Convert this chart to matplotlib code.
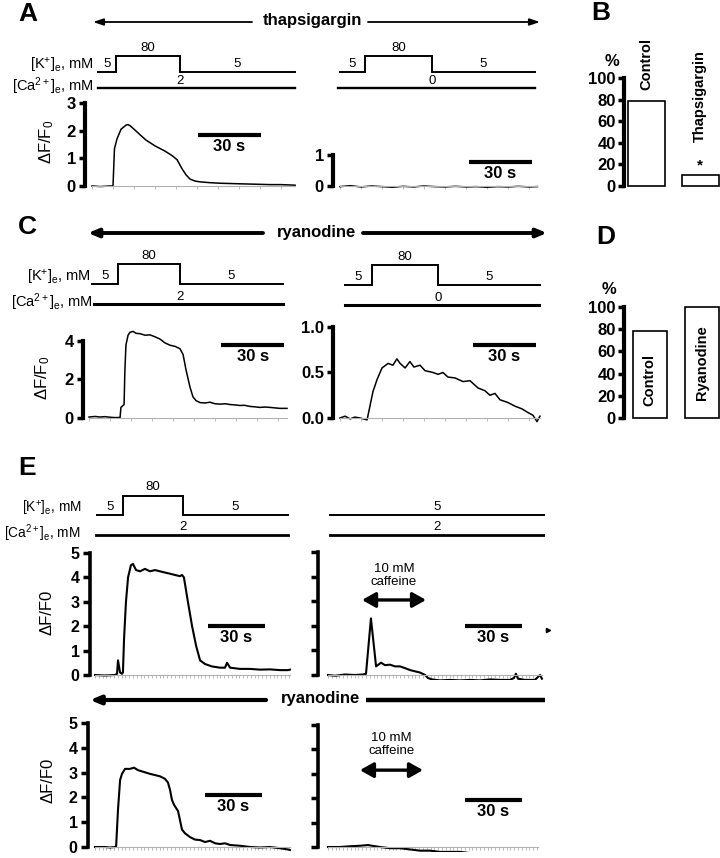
import matplotlib
matplotlib.use('Agg')
import matplotlib.pyplot as plt
import numpy as np

plt.rcParams['font.family'] = ['Liberation Sans', 'DejaVu Sans']
plt.rcParams['mathtext.fontset'] = 'custom'
plt.rcParams['mathtext.rm'] = 'Liberation Sans'
plt.rcParams['mathtext.it'] = 'Liberation Sans:italic'
plt.rcParams['mathtext.bf'] = 'Liberation Sans:bold'
plt.rcParams['mathtext.sf'] = 'Liberation Sans'

# ======================= DATA =======================
# Panel A (thapsigargin): dF/F0 traces, time in s
a_left_t = [0, 4, 8.5, 10, 10.7, 11.9, 13.8, 16.2, 17.1, 18.1, 20.5, 22.9, 25.7, 30.0, 34.8,
            38.1, 40.5, 42.9, 44.8, 46.7, 49.0, 51.4, 56.2, 61, 65.7, 70, 75.2, 80, 84.8, 90, 96.7]
a_left_y = [0.0, -0.02, 0.0, 0.0, 1.35, 1.7, 2.05, 2.2, 2.22, 2.18, 2.02, 1.85, 1.66, 1.45, 1.26,
            1.1, 0.95, 0.62, 0.4, 0.25, 0.18, 0.15, 0.12, 0.1, 0.09, 0.08, 0.07, 0.06, 0.05, 0.05, 0.03]
a_right_t = [0, 5, 10, 15, 20, 25, 30, 35, 40, 45, 50, 55, 60, 65, 70, 75, 80, 85, 90, 94]
a_right_y = [-0.02, 0.01, -0.03, 0.0, -0.02, -0.04, -0.01, -0.03, 0.0, -0.02, -0.03, -0.01,
             -0.03, -0.02, -0.04, -0.02, -0.03, -0.01, -0.03, -0.02]

# Panel C (ryanodine)
c_left_t = [0, 2.9, 5.2, 7.6, 10, 12.4, 14.8, 15.2, 15.7, 16.7, 17.1, 17.6, 18.6, 19.5, 21, 22.4,
            24.3, 26.7, 29, 31.4, 33.8, 36.2, 38.6, 41, 43.3, 44.8, 46.2, 48.1, 49.5, 51, 52.9,
            55.2, 57.6, 60, 62.4, 65, 67.1, 69.5, 71.9, 74, 76.7, 79, 81.4, 84, 86.2, 89, 91, 94.3]
c_left_y = [0.05, 0.08, 0.05, 0.07, 0.04, 0.02, 0.03, 0.55, 0.6, 0.7, 2.5, 3.8, 4.3, 4.45, 4.5, 4.4,
            4.38, 4.3, 4.32, 4.22, 4.1, 3.9, 3.78, 3.72, 3.6, 3.3, 2.5, 1.6, 1.1, 0.9, 0.8,
            0.78, 0.82, 0.74, 0.72, 0.74, 0.7, 0.68, 0.65, 0.66, 0.6, 0.58, 0.55, 0.57, 0.55, 0.52, 0.5, 0.5]
c_right_t = [0, 2.4, 4.8, 7.1, 9.5, 12.9, 15.7, 17.6, 20, 22.9, 25.2, 27.1, 28.6, 31, 33.3, 35.2,
             38.1, 40.5, 44.3, 46.7, 49, 51.4, 54.8, 58.6, 61.9, 65.7, 69, 71.4, 73.8, 76.2, 80,
             83.3, 86.7, 89.5, 91.9, 93.8, 95.2]
c_right_y = [0.0, 0.02, -0.01, 0.01, 0.0, -0.02, 0.29, 0.42, 0.55, 0.6, 0.58, 0.65, 0.6, 0.55,
             0.62, 0.56, 0.58, 0.52, 0.5, 0.48, 0.5, 0.45, 0.44, 0.4, 0.41, 0.33, 0.3, 0.25, 0.27,
             0.2, 0.17, 0.13, 0.1, 0.06, 0.03, -0.04, 0.02]

# Panel E (caffeine)
e_tl_t = [0, 5.3, 10.5, 11.6, 12.1, 13.2, 14.2, 14.7, 15.3, 16.3, 17.4, 18.9, 20, 21.6, 23.7,
          26.3, 28.9, 31.6, 34.2, 36.8, 39.5, 42.1, 44.7, 45.8, 46.8, 48.9, 51.1, 53.2, 55.3,
          57.9, 61.6, 65.8, 68.4, 69.5, 71.1, 76.3, 81.6, 86.8, 92.1, 97.4, 101.6, 102.6]
e_tl_y = [0.0, -0.02, 0.0, 0.05, 0.6, 0.1, 0.05, 0.1, 1.5, 3.0, 4.0, 4.5, 4.55, 4.3, 4.25,
          4.35, 4.25, 4.3, 4.25, 4.2, 4.15, 4.1, 4.05, 4.1, 4.0, 3.0, 2.0, 1.2, 0.6,
          0.45, 0.35, 0.3, 0.3, 0.5, 0.3, 0.25, 0.25, 0.22, 0.23, 0.2, 0.2, 0.22]
e_tr_t = [0, 3.7, 8.9, 14.2, 18.4, 20, 22.6, 25.3, 27.9, 30, 32.6, 35.3, 37.9, 40.5, 43.2, 45.8,
          48.4, 51.1, 52.6, 54.7, 58.9, 64.2, 69.5, 74.7, 80, 85.3, 90.5, 95.8, 97.9, 98.9, 100,
          103.7, 108.9, 111.6, 112.6]
e_tr_y = [0.0, -0.03, 0.02, 0.0, 0.02, 0.05, 2.3, 0.35, 0.5, 0.4, 0.42, 0.35, 0.35, 0.28, 0.2,
          0.15, 0.1, 0.0, -0.12, -0.18, -0.22, -0.2, -0.22, -0.2, -0.22, -0.18, -0.2, -0.2,
          -0.12, 0.05, -0.15, -0.2, -0.2, 0.0, -0.15]
e_bl_t = [0, 5.3, 7.9, 10.5, 11.1, 12.1, 13.2, 14.2, 15.8, 18.4, 20.5, 22.6, 24.7, 26.8, 28.9,
          31.6, 34.2, 36.8, 38.4, 39.5, 40.5, 41.6, 43.7, 45.8, 47.4, 50, 52.6, 55.3, 57.9,
          60.5, 63.2, 65.8, 68.4, 71.1, 76.3, 81.6, 86.8, 92.1, 97.4, 101.6, 102.6]
e_bl_y = [0.0, 0.0, -0.02, 0.0, 0.0, 1.5, 2.7, 2.95, 3.15, 3.15, 3.2, 3.1, 3.05, 3.0, 2.95,
          2.9, 2.85, 2.75, 2.6, 2.3, 1.9, 1.7, 1.45, 0.7, 0.55, 0.4, 0.3, 0.28, 0.2,
          0.25, 0.15, 0.12, 0.15, 0.08, 0.05, 0.0, -0.02, 0.0, -0.05, -0.1, -0.12]
e_br_t = [0, 6.3, 11.6, 16.8, 21.1, 23.2, 27.4, 32.6, 37.9, 43.2, 48.4, 53.7, 58.9, 64.2, 69.5,
          74.7, 80, 85.3, 90.5, 95.8, 101, 106.3, 110.5]
e_br_y = [0.0, 0.0, 0.03, 0.05, 0.08, 0.05, 0.0, -0.05, -0.05, -0.1, -0.15, -0.15, -0.2, -0.2,
          -0.2, -0.25, -0.28, -0.3, -0.3, -0.3, -0.32, -0.3, -0.32]

# Perfusion protocols: [line start, K on, K off, line end] (s); K+ (mM); Ca2+ (mM)
k_levels = [5, 80, 5]
a_left_k_t = [2.9, 11.4, 41.9, 96.7]
a_right_k_t = [0.0, 11.9, 43.8, 92.9]
c_left_k_t = [1.4, 13.8, 43.3, 92.4]
c_right_k_t = [2.4, 15.2, 46.7, 95.7]
e_left_k_t = [1.05, 14.7, 46.3, 101.6]
e_right_k_t = [1.05, 114.2]
e_right_k = 5
a_left_ca, a_right_ca = 2, 0
c_left_ca, c_right_ca = 2, 0
e_left_ca, e_right_ca = 2, 2
caffeine_t = [17.9, 51.6]
caffeine_t2 = [16.8, 50.0]

# Bar charts (% responding)
b_labels = ['Control', 'Thapsigargin']
b_values = [79, 10]
d_labels = ['Control', 'Ryanodine']
d_values = [78, 100]

# ======================= FIGURE =======================
W, H = 720, 858
fig = plt.figure(figsize=(W / 100, H / 100), dpi=100)

ov = fig.add_axes([0, 0, 1, 1])
ov.set_xlim(0, W)
ov.set_ylim(H, 0)
ov.axis('off')


def px_axes(x0, y0, x1, y1):
    ax = fig.add_axes([x0 / W, 1 - y1 / H, (x1 - x0) / W, (y1 - y0) / H])
    ax.patch.set_visible(False)
    return ax


def trace_axes(x_spine, x_start, x_end, pxps, y_top, y_bot, y0, pxpu):
    ax = px_axes(x_spine, y_top, x_end, y_bot)
    ax.set_xlim((x_spine - x_start) / pxps, (x_end - x_start) / pxps)
    ax.set_ylim((y0 - y_bot) / pxpu, (y0 - y_top) / pxpu)
    return ax


def style_trace(ax, ymax, yticks, ylabels, t_end, tick_step, spine_lw=3.0, fs=12, tlen=4):
    for s in ['top', 'right']:
        ax.spines[s].set_visible(False)
    ax.spines['left'].set_linewidth(spine_lw)
    ax.spines['left'].set_bounds(0, ymax)
    ax.set_yticks(yticks)
    ax.set_yticklabels(ylabels, fontsize=fs, fontweight='bold')
    ax.tick_params(axis='y', length=tlen, width=2.5, pad=2.5)
    ax.spines['bottom'].set_color('#b0b0b0')
    ax.spines['bottom'].set_linewidth(0.8)
    ax.spines['bottom'].set_bounds(0, t_end)
    ax.spines['bottom'].set_position(('data', 0))
    ax.set_xticks(np.arange(0, t_end + 0.01, tick_step))
    ax.tick_params(axis='x', length=2.5, width=0.6, color='#b0b0b0', labelbottom=False)


def scale_bar(ax, t0, yv, fs=12, lw=3.0):
    ax.plot([t0, t0 + 30], [yv, yv], color='k', lw=lw, solid_capstyle='butt', clip_on=False)
    ax.annotate('30 s', xy=(t0 + 15, yv), xytext=(0, -3), textcoords='offset points',
                ha='center', va='top', fontsize=fs, fontweight='bold')


def protocol(x0, x1, xlim, y_klow, unit, k_t, ca_val, ca_t, lab_gap, k_lw=1.4, ca_lw=1.7,
             fs=9.5, kconst=None, show_names=True, name_fs=10.5):
    ax = px_axes(x0, y_klow - 2 * unit, x1, y_klow + 1.6 * unit)
    ax.set_xlim(xlim)
    ax.set_ylim(-1.6, 2)
    ax.axis('off')
    if kconst is None:
        xs = [k_t[0], k_t[1], k_t[1], k_t[2], k_t[2], k_t[3]]
        ys = [0, 0, 1, 1, 0, 0]
        ax.plot(xs, ys, color='k', lw=k_lw, solid_joinstyle='miter')
        segs = [(k_t[0], k_t[1], 0), (k_t[1], k_t[2], 1), (k_t[2], k_t[3], 0)]
        for (s, e, lv), val in zip(segs, k_levels):
            ax.annotate(str(val), xy=((s + e) / 2, lv), xytext=(0, 1.5), textcoords='offset points',
                        ha='center', va='bottom', fontsize=fs)
        ca_lab_t = k_t[2]
    else:
        ax.plot([k_t[0], k_t[1]], [0, 0], color='k', lw=k_lw)
        ax.annotate(str(kconst), xy=((k_t[0] + k_t[1]) / 2, 0), xytext=(0, 1.5),
                    textcoords='offset points', ha='center', va='bottom', fontsize=fs)
        ca_lab_t = (k_t[0] + k_t[1]) / 2
    ax.plot(ca_t, [-1, -1], color='k', lw=ca_lw)
    ax.annotate(str(ca_val), xy=(ca_lab_t, -1), xytext=(0, 1.0), textcoords='offset points',
                ha='center', va='bottom', fontsize=fs)
    if show_names:
        ax.annotate(r'[K$^{+}$]$_{\rm e}$, mM', xy=(k_t[0], 0), xytext=(-lab_gap, 1.5),
                    textcoords='offset points', ha='right', va='baseline', fontsize=name_fs)
        ax.annotate(r'[Ca$^{2+}$]$_{\rm e}$, mM', xy=(ca_t[0], -1), xytext=(-lab_gap, -2.5),
                    textcoords='offset points', ha='right', va='baseline', fontsize=name_fs)
    return ax


def bar_axes(x_spine, y_top, x_end, y_bot, y0, pxpu, centers, width_px, values):
    ax = px_axes(x_spine, y_top, x_end, y_bot)
    sp = centers[1] - centers[0]
    ax.set_xlim((x_spine - centers[0]) / sp, (x_end - centers[0]) / sp)
    ax.set_ylim((y0 - y_bot) / pxpu, (y0 - y_top) / pxpu)
    ax.bar([0, 1], values, width=width_px / sp, color='white', edgecolor='k', lw=1.2)
    for s in ['top', 'right', 'bottom']:
        ax.spines[s].set_visible(False)
    ax.spines['left'].set_linewidth(3)
    ax.spines['left'].set_bounds(0, 100)
    ax.set_yticks(range(0, 101, 20))
    ax.set_yticklabels([str(v) for v in range(0, 101, 20)], fontsize=12, fontweight='bold')
    ax.tick_params(axis='y', length=4, width=2.5, pad=2)
    ax.set_xticks([])
    return ax


# ---------------- Panel A ----------------
ov.text(28, 14, 'A', fontsize=19, fontweight='bold', ha='center', va='center')
arw = dict(arrowstyle='-|>,head_length=0.6,head_width=0.2', lw=1.3, color='k', shrinkA=0, shrinkB=0)
ov.annotate('', xy=(93, 22), xytext=(252, 22), arrowprops=arw)
ov.annotate('', xy=(540, 22), xytext=(368, 22), arrowprops=arw)
ov.text(312, 21, 'thapsigargin', fontsize=12, fontweight='bold', ha='center', va='center')

axA1 = trace_axes(85, 92, 298, 2.1, 95, 192, 186, 27.67)
axA1.plot(a_left_t, a_left_y, color='k', lw=1.1)
style_trace(axA1, 3, [0, 1, 2, 3], ['0', '1', '2', '3'], 96.7, 10)
scale_bar(axA1, 50.5, 1.84)
protocol(85, 298, axA1.get_xlim(), 72, 16, a_left_k_t, a_left_ca, [2.9, 96.7], 3.0)

axA2 = trace_axes(333, 340, 540, 2.1, 120, 192, 186, 31)
axA2.plot(a_right_t, a_right_y, color='k', lw=1.1)
style_trace(axA2, 1, [0, 1], ['0', '1'], 94, 10)
scale_bar(axA2, 61.4, 0.77)
protocol(333, 540, axA2.get_xlim(), 72, 16, a_right_k_t, a_right_ca, [-1.0, 92.9], 3.0,
         show_names=False)
ov.text(47, 142, r'ΔF/F$_0$', fontsize=12, rotation=90, ha='center', va='center')

# ---------------- Panel B ----------------
ov.text(601, 13, 'B', fontsize=19, fontweight='bold', ha='center', va='center')
axB = bar_axes(624, 75, 720, 192, 186, 1.08, [646.5, 700], 37, b_values)
axB.text(0, 89, b_labels[0], rotation=90, ha='center', va='bottom', fontsize=10.5, fontweight='bold')
axB.text(1, 41, b_labels[1], rotation=90, ha='center', va='bottom', fontsize=10.5, fontweight='bold')
axB.text(1, 19, '*', ha='center', va='center', fontsize=11, fontweight='bold')
ov.text(612, 62, '%', fontsize=12, fontweight='bold', ha='center', va='center')

# ---------------- Panel C ----------------
ov.text(27, 227, 'C', fontsize=19, fontweight='bold', ha='center', va='center')
arw2 = dict(arrowstyle='-|>,head_length=0.6,head_width=0.25', lw=2.8, color='k', shrinkA=0, shrinkB=0)
ov.annotate('', xy=(88, 233), xytext=(263, 233), arrowprops=arw2)
ov.annotate('', xy=(547, 233), xytext=(363, 233), arrowprops=arw2)
ov.text(316, 232, 'ryanodine', fontsize=12, fontweight='bold', ha='center', va='center')

axC1 = trace_axes(83, 89, 289, 2.1, 325, 424, 418, 19.25)
axC1.plot(c_left_t, c_left_y, color='k', lw=1.1)
style_trace(axC1, 4, [0, 2, 4], ['0', '2', '4'], 94.3, 10)
scale_bar(axC1, 62.9, 3.8)
protocol(83, 289, axC1.get_xlim(), 284, 20, c_left_k_t, c_left_ca, [2.4, 92.4], 1.0, ca_lw=2.2)

axC2 = trace_axes(333, 340, 541, 2.1, 320, 424, 418, 91)
axC2.plot(c_right_t, c_right_y, color='k', lw=1.1)
style_trace(axC2, 1, [0, 0.5, 1.0], ['0.0', '0.5', '1.0'], 95.2, 10)
scale_bar(axC2, 63.3, 0.8)
protocol(333, 541, axC2.get_xlim(), 285, 20, c_right_k_t, c_right_ca, [2.4, 95.2], 1.0,
         ca_lw=2.2, show_names=False)
ov.text(43, 378, r'ΔF/F$_0$', fontsize=12, rotation=90, ha='center', va='center')

# ---------------- Panel D ----------------
ov.text(606, 237, 'D', fontsize=19, fontweight='bold', ha='center', va='center')
axD = bar_axes(624, 300, 720, 424, 418, 1.11, [649.5, 702], 34, d_values)
axD.text(0, 34, d_labels[0], rotation=90, ha='center', va='center', fontsize=10.5, fontweight='bold')
axD.text(1, 50, d_labels[1], rotation=90, ha='center', va='center', fontsize=10.5, fontweight='bold')
ov.text(609, 290, '%', fontsize=12, fontweight='bold', ha='center', va='center')

# ---------------- Panel E ----------------
ov.text(27, 468, 'E', fontsize=19, fontweight='bold', ha='center', va='center')
protocol(90, 292, (-5 / 1.9, 197 / 1.9), 515, 19.5, e_left_k_t, e_left_ca, [0.5, 101.6], 11.0,
         ca_lw=2.0, fs=9.5, name_fs=9.8)
protocol(318, 545, (-10 / 1.9, 217 / 1.9), 515, 19.5, e_right_k_t, e_right_ca, [1.05, 114.2], 3,
         ca_lw=2.0, fs=9.5, kconst=e_right_k, show_names=False)

e5 = [0, 1, 2, 3, 4, 5]
cafarw = dict(arrowstyle='<|-|>,head_length=0.8,head_width=0.45', lw=2.4, color='k',
              shrinkA=0, shrinkB=0)
axE1 = trace_axes(90, 95, 292, 1.9, 548, 680, 675, 24.4)
axE1.plot(e_tl_t, e_tl_y, color='k', lw=1.5)
style_trace(axE1, 5, e5, [str(v) for v in e5], 102.6, 2, spine_lw=2.6, fs=11.5, tlen=5)
scale_bar(axE1, 59.5, 2.0)

axE2 = trace_axes(318, 328, 545, 1.9, 548, 680, 675, 24.6)
axE2.plot(e_tr_t, e_tr_y, color='k', lw=1.5)
style_trace(axE2, 5, e5, [''] * 6, 112.6, 2, spine_lw=2.6, fs=11.5, tlen=5)
scale_bar(axE2, 72.1, 2.0)
axE2.annotate('', xy=(caffeine_t[0], 3.05), xytext=(caffeine_t[1], 3.05), arrowprops=cafarw)
axE2.text(sum(caffeine_t) / 2, 4.05, '10 mM\ncaffeine', ha='center', va='center', fontsize=9.5,
          linespacing=1.05)
ov.plot([548], [630], marker='>', ms=3, color='k')
ov.text(47, 612, 'ΔF/F0', fontsize=12, rotation=90, ha='center', va='center')

# ryanodine bar in E
arw3 = dict(arrowstyle='-|>,head_length=0.6,head_width=0.25', lw=3.0, color='k', shrinkA=0, shrinkB=0)
ov.annotate('', xy=(90, 700), xytext=(266, 700), arrowprops=arw3)
ov.plot([366, 545], [700, 700], color='k', lw=3.2, solid_capstyle='butt')
ov.text(320, 699, 'ryanodine', fontsize=12, fontweight='bold', ha='center', va='center')

axE3 = trace_axes(88, 95, 292, 1.9, 720, 852, 847, 24.8)
axE3.plot(e_bl_t, e_bl_y, color='k', lw=1.5)
style_trace(axE3, 5, e5, [str(v) for v in e5], 102.6, 2, spine_lw=2.6, fs=11.5, tlen=5)
scale_bar(axE3, 57.9, 2.1)
ov.text(48, 780, 'ΔF/F0', fontsize=12, rotation=90, ha='center', va='center')

axE4 = trace_axes(318, 328, 545, 1.9, 720, 852, 847, 24.4)
axE4.plot(e_br_t, e_br_y, color='k', lw=1.5)
style_trace(axE4, 5, e5, [''] * 6, 110.5, 2, spine_lw=2.6, fs=11.5, tlen=5)
scale_bar(axE4, 72.1, 1.93)
axE4.annotate('', xy=(caffeine_t2[0], 3.15), xytext=(caffeine_t2[1], 3.15), arrowprops=cafarw)
axE4.text(sum(caffeine_t2) / 2, 4.2, '10 mM\ncaffeine', ha='center', va='center', fontsize=9.5,
          linespacing=1.05)

fig.savefig('out.png', dpi=100)
